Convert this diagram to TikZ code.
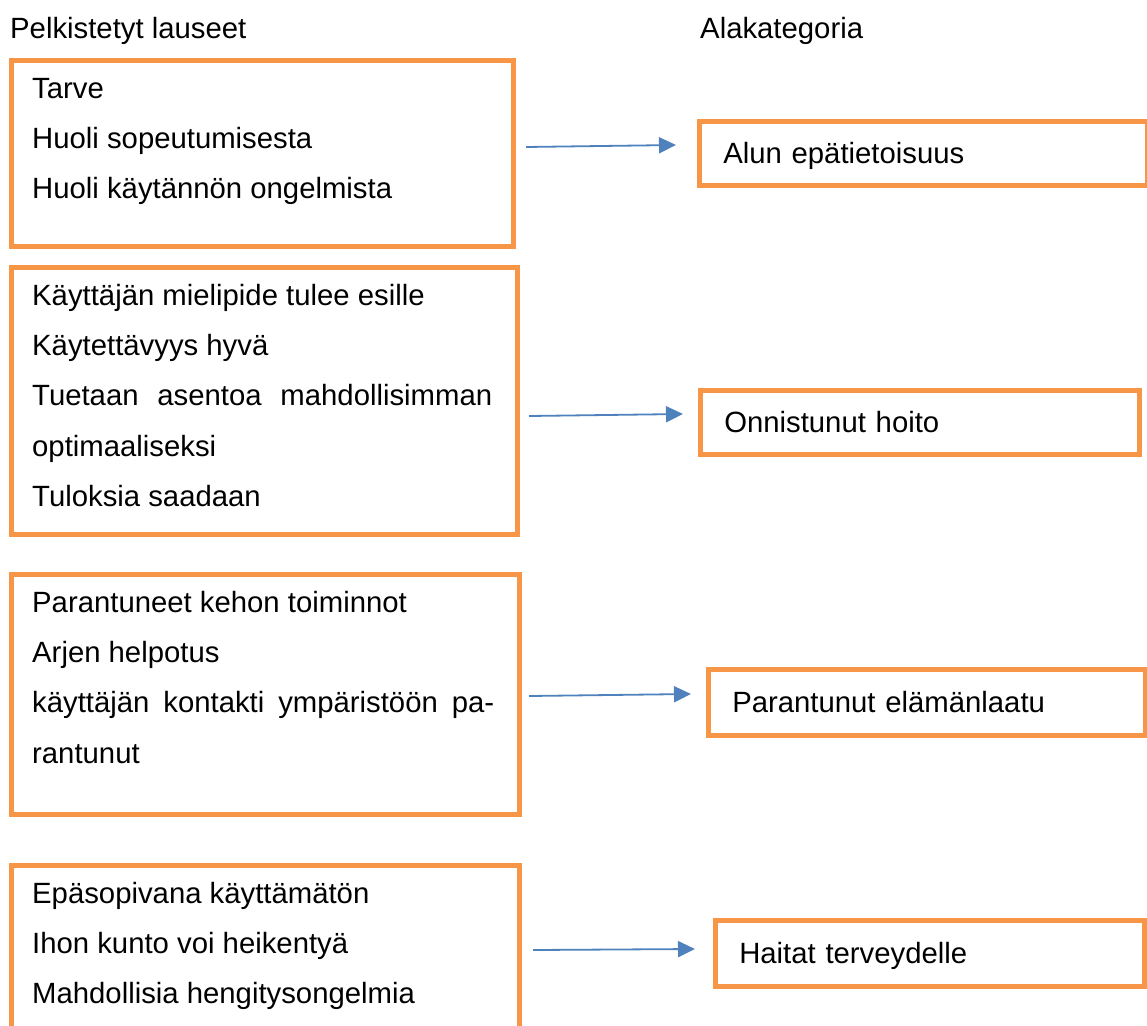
\documentclass[tikz,border=0pt]{standalone}
\usepackage{fontspec}
\setmainfont{Liberation Sans}
\usetikzlibrary{arrows.meta}
\definecolor{boxorange}{HTML}{F79646}
\definecolor{arrowblue}{HTML}{4F81BD}
\tikzset{
  leftbox/.style={draw=boxorange, line width=4.5pt, anchor=north west, inner sep=0pt},
  catbox/.style={draw=boxorange, line width=4.5pt, anchor=north west, inner xsep=24pt, inner ysep=0pt,
    text width=#1, align=left, minimum height=64pt, text height=21pt, text depth=1pt},
  rowtext/.style={anchor=base west, inner sep=0pt},
  arr/.style={draw=arrowblue, line width=1.8pt, -{Triangle[length=17pt,width=16pt]}}
}

\begin{document}
\begin{tikzpicture}[x=1pt,y=-1pt,font=\fontsize{29.3}{35}\selectfont]
  \useasboundingbox (0,0) rectangle (1147,1025);
  \clip (0,0) rectangle (1147,1025);
  % headings
  \node[rowtext] (head1) at (10,38){Pelkistetyt lauseet};
  \node[rowtext] (head2) at (700,38){Alakategoria};
  % left boxes
  \node[leftbox, minimum width=502, minimum height=186] (b1) at (9,58){};
  \node[leftbox, minimum width=506, minimum height=267] (b2) at (9,265){};
  \node[leftbox, minimum width=508, minimum height=240] (b3) at (9,572){};
  \node[leftbox, minimum width=508, minimum height=200] (b4) at (9,863){};
  \foreach \txt [count=\i] in {Tarve, Huoli sopeutumisesta, Huoli käytännön ongelmista}
    \node[rowtext] (b1-\i) at (32, 47.6+50.4*\i){\txt};
  \foreach \txt [count=\i] in {Käyttäjän mielipide tulee esille, Käytettävyys hyvä,
      {\makebox[460pt][s]{Tuetaan asentoa mahdollisimman}}, optimaaliseksi, Tuloksia saadaan}
    \node[rowtext] (b2-\i) at (32, 254.6+50.4*\i){\txt};
  \foreach \txt [count=\i] in {Parantuneet kehon toiminnot, Arjen helpotus,
      {\makebox[462pt][s]{käyttäjän kontakti ympäristöön pa-}}, rantunut}
    \node[rowtext] (b3-\i) at (32, 561.6+50.4*\i){\txt};
  \foreach \txt [count=\i] in {Epäsopivana käyttämätön, Ihon kunto voi heikentyä, Mahdollisia hengitysongelmia}
    \node[rowtext] (b4-\i) at (32, 852.6+50.4*\i){\txt};
  % categories
  \node[catbox=400pt] (c1) at (697,119){Alun epätietoisuus};
  \node[catbox=391pt] (c2) at (698,388){Onnistunut hoito};
  \node[catbox=389pt, minimum height=66pt] (c3) at (706,667){Parantunut elämänlaatu};
  \node[catbox=381pt, minimum height=66pt] (c4) at (713,918){Haitat terveydelle};
  % arrows
  \coordinate (s1) at (526,147); \coordinate (e1) at (676,145);
  \coordinate (s2) at (529,416); \coordinate (e2) at (683,414);
  \coordinate (s3) at (529,696); \coordinate (e3) at (691,694);
  \coordinate (s4) at (533,950); \coordinate (e4) at (695,949);
  \foreach \k in {1,...,4}
    \draw[arr] (s\k) -- (e\k);
\end{tikzpicture}
\end{document}
